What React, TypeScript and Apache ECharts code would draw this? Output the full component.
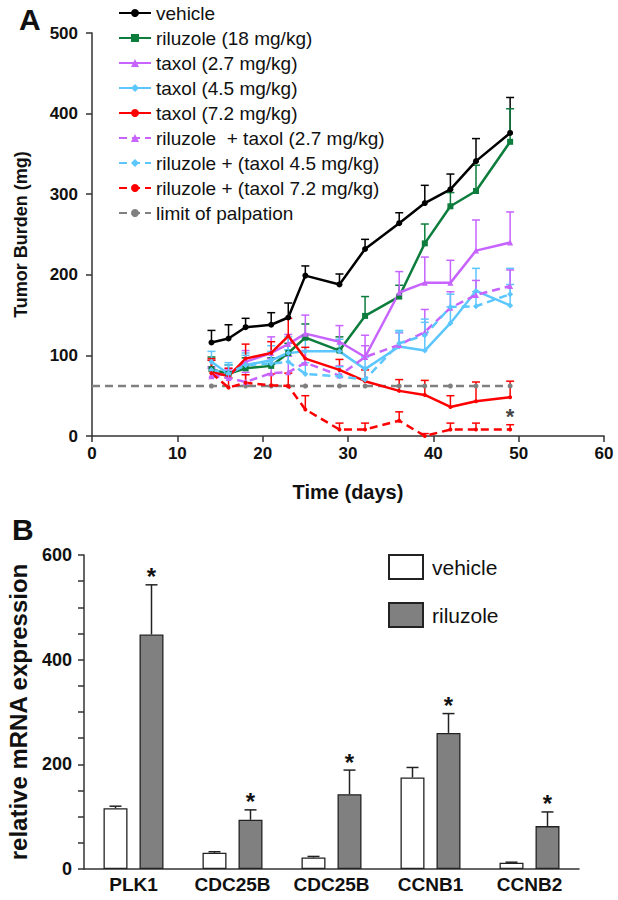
import React, { useEffect, useRef } from "react";
import * as echarts from "echarts";

const FONT = "'Liberation Sans', Arial, Helvetica, sans-serif";

// ---------- Panel A data ----------
const DAYS = [14, 16, 18, 21, 23, 25, 29, 32, 36, 39, 42, 45, 49];
const VEHICLE = [116, 121, 135, 138, 147, 199, 188, 232, 264, 289, 306, 341, 376];
const VEHICLE_ERR = [15, 17, 11, 15, 18, 12, 13, 12, 13, 22, 19, 28, 44];
const RILUZOLE = [83, 77, 84, 87, 103, 122, 106, 149, 173, 239, 285, 304, 365];
const RILUZOLE_ERR = [15, 11, 13, 10, 12, 17, 17, 24, 14, 24, 17, 32, 41];
const TAXOL27 = [76, 76, 92, 103, 114, 127, 117, 98, 178, 190, 190, 230, 240];
const TAXOL27_ERR = [10, 8, 14, 20, 12, 23, 20, 27, 26, 32, 28, 38, 38];
const TAXOL45 = [92, 77, 88, 94, 103, 105, 105, 83, 111, 106, 140, 180, 162];
const TAXOL45_ERR = [13, 14, 15, 18, 20, 16, 15, 15, 20, 35, 20, 28, 46];
const TAXOL72 = [80, 74, 96, 103, 124, 96, 82, 68, 56, 51, 36, 43, 48];
const TAXOL72_ERR = [16, 10, 18, 14, 22, 14, 13, 14, 14, 18, 14, 24, 20];
const RIL_TAX27 = [74, 72, 67, 78, 79, 91, 75, 98, 113, 129, 159, 175, 186];
const RIL_TAX27_ERR = [10, 10, 12, 18, 20, 15, 12, 14, 15, 28, 20, 18, 20];
const RIL_TAX45 = [82, 78, 88, 90, 92, 77, 74, 70, 115, 125, 160, 161, 176];
const RIL_TAX45_ERR = [12, 10, 12, 15, 15, 14, 12, 15, 14, 20, 16, 18, 12];
const RIL_TAX72 = [78, 60, 66, 63, 62, 33, 8, 8, 19, 0, 8, 8, 8];
const RIL_TAX72_ERR = [16, 12, 10, 14, 16, 17, 8, 8, 11, 3, 8, 8, 6];
const LIMIT_DAYS = [0, 14, 18, 21, 23, 25, 29, 32, 36, 39, 42, 45, 49];
const LIMIT_VALUE = 62;
const STAR_A = [49, 24];
const X_TICKS_A = { min: 0, max: 60, interval: 10 };
const Y_TICKS_A = { min: 0, max: 500, interval: 100 };

// ---------- Panel B data ----------
const GENES = ["PLK1", "CDC25B", "CDC25B", "CCNB1", "CCNB2"];
const EXPR_VEHICLE = [116, 31, 22, 175, 12];
const EXPR_VEHICLE_ERR = [4, 2, 2, 19, 1];
const EXPR_RILUZOLE = [448, 94, 143, 260, 82];
const EXPR_RILUZOLE_ERR = [95, 19, 46, 37, 27];
const EXPR_SIG = [true, true, true, true, true];
const Y_TICKS_B = { min: 0, max: 600, interval: 50, labelEvery: 200 };

type LineDef = {
  name: string;
  values: number[];
  errors: number[];
  color: string;
  dashed: boolean;
  symbol: string;
  symbolSize: number;
};

const LINES: LineDef[] = [
  { name: "vehicle", values: VEHICLE, errors: VEHICLE_ERR, color: "#000000", dashed: false, symbol: "circle", symbolSize: 6 },
  { name: "riluzole (18 mg/kg)", values: RILUZOLE, errors: RILUZOLE_ERR, color: "#0c7d3c", dashed: false, symbol: "rect", symbolSize: 6 },
  { name: "taxol (2.7 mg/kg)", values: TAXOL27, errors: TAXOL27_ERR, color: "#c763ff", dashed: false, symbol: "triangle", symbolSize: 6 },
  { name: "taxol (4.5 mg/kg)", values: TAXOL45, errors: TAXOL45_ERR, color: "#5cc6ff", dashed: false, symbol: "diamond", symbolSize: 6 },
  { name: "taxol (7.2 mg/kg)", values: TAXOL72, errors: TAXOL72_ERR, color: "#ff0000", dashed: false, symbol: "circle", symbolSize: 4 },
  { name: "riluzole  + taxol (2.7 mg/kg)", values: RIL_TAX27, errors: RIL_TAX27_ERR, color: "#c763ff", dashed: true, symbol: "triangle", symbolSize: 6 },
  { name: "riluzole + (taxol 4.5 mg/kg)", values: RIL_TAX45, errors: RIL_TAX45_ERR, color: "#5cc6ff", dashed: true, symbol: "diamond", symbolSize: 6 },
  { name: "riluzole + (taxol 7.2 mg/kg)", values: RIL_TAX72, errors: RIL_TAX72_ERR, color: "#ff0000", dashed: true, symbol: "circle", symbolSize: 4 },
];
const LIMIT_NAME = "limit of palpation";

const axisLineStyle = { color: "#333", width: 1.5 };

function errorSeriesA(def: LineDef) {
  return {
    type: "custom",
    silent: true,
    z: 1,
    encode: { x: 0, y: [1, 3] },
    data: DAYS.map((d, i) => [d, def.values[i], def.errors[i], def.values[i] + def.errors[i]]),
    renderItem: (params: any, api: any) => {
      const x = api.value(0);
      const y = api.value(1);
      const e = api.value(2);
      if (!e) return null;
      const p0 = api.coord([x, y]);
      const p1 = api.coord([x, y + e]);
      const st = { stroke: def.color, lineWidth: 1.5 };
      return {
        type: "group",
        children: [
          { type: "line", shape: { x1: p0[0], y1: p0[1], x2: p1[0], y2: p1[1] }, style: st },
          { type: "line", shape: { x1: p1[0] - 4, y1: p1[1], x2: p1[0] + 4, y2: p1[1] }, style: st },
        ],
      };
    },
  };
}

function optionA(): any {
  const series: any[] = [];
  LINES.forEach((def) => series.push(errorSeriesA(def)));
  series.push({
    name: LIMIT_NAME,
    type: "line",
    z: 2,
    symbol: "circle",
    symbolSize: 5,
    itemStyle: { color: "#808080" },
    lineStyle: { color: "#808080", width: 2.5, type: [8, 5] },
    data: LIMIT_DAYS.map((d) => ({ value: [d, LIMIT_VALUE], symbol: d === 0 ? "none" : "circle" })),
  });
  LINES.forEach((def) =>
    series.push({
      name: def.name,
      type: "line",
      z: 3,
      symbol: def.symbol,
      symbolSize: def.symbolSize,
      itemStyle: { color: def.color },
      lineStyle: { color: def.color, width: 2.5, type: def.dashed ? [8, 5] : "solid" },
      data: DAYS.map((d, i) => [d, def.values[i]]),
    })
  );
  series.push({
    type: "scatter",
    silent: true,
    symbolSize: 0,
    data: [STAR_A],
    label: { show: true, formatter: "*", position: "inside", fontSize: 22, fontWeight: "bold", color: "#111", fontFamily: FONT },
  });

  return {
    animation: false,
    backgroundColor: "transparent",
    textStyle: { fontFamily: FONT },
    graphic: [
      { type: "text", left: 19, top: 4, style: { text: "A", fontSize: 30, fontWeight: "bold", fill: "#111", fontFamily: FONT } },
    ],
    legend: {
      orient: "vertical",
      left: 118,
      top: 3,
      padding: 0,
      itemWidth: 32,
      itemHeight: 10,
      itemGap: 5,
      textStyle: { fontSize: 19, color: "#111", fontFamily: FONT, lineHeight: 20 },
      data: [...LINES.map((l) => l.name), LIMIT_NAME],
    },
    grid: { left: 92, right: 14, top: 33, height: 403, outerBoundsMode: "none", containLabel: false },
    xAxis: {
      type: "value",
      ...X_TICKS_A,
      name: "Time (days)",
      nameLocation: "middle",
      nameGap: 46,
      nameTextStyle: { fontSize: 20, fontWeight: "bold", color: "#111", fontFamily: FONT },
      axisLine: { lineStyle: axisLineStyle },
      axisTick: { length: 6, lineStyle: axisLineStyle },
      axisLabel: { fontSize: 17, fontWeight: "bold", color: "#111", margin: 9, fontFamily: FONT },
      splitLine: { show: false },
    },
    yAxis: {
      type: "value",
      ...Y_TICKS_A,
      name: "Tumor Burden (mg)",
      nameLocation: "middle",
      nameGap: 62,
      nameTextStyle: { fontSize: 18, fontWeight: "bold", color: "#111", fontFamily: FONT },
      axisLine: { show: true, lineStyle: axisLineStyle },
      axisTick: { show: true, length: 6, lineStyle: axisLineStyle },
      axisLabel: { fontSize: 17, fontWeight: "bold", color: "#111", margin: 14, fontFamily: FONT },
      splitLine: { show: false },
    },
    series,
  };
}

function errorSeriesB(values: number[], errors: number[], sig: boolean[] | null, offset: number) {
  return {
    type: "custom",
    silent: true,
    z: 3,
    encode: { x: 0, y: [1, 3] },
    data: values.map((v, i) => [i, v, errors[i], v + errors[i], sig && sig[i] ? 1 : 0]),
    renderItem: (params: any, api: any) => {
      const idx = api.value(0);
      const v = api.value(1);
      const e = api.value(2);
      const s = api.value(4);
      const p0 = api.coord([idx, v]);
      const p1 = api.coord([idx, v + e]);
      const x = p0[0] + offset;
      const st = { stroke: "#222", lineWidth: 1.5 };
      const children: any[] = [
        { type: "line", shape: { x1: x, y1: p0[1], x2: x, y2: p1[1] }, style: st },
        { type: "line", shape: { x1: x - 6, y1: p1[1], x2: x + 6, y2: p1[1] }, style: st },
      ];
      if (s) {
        children.push({
          type: "text",
          style: { text: "*", x: x, y: p1[1] + 4, align: "center", verticalAlign: "bottom", fontSize: 24, fontWeight: "bold", fill: "#111", fontFamily: FONT },
        });
      }
      return { type: "group", children };
    },
  };
}

function optionB(): any {
  return {
    animation: false,
    backgroundColor: "transparent",
    textStyle: { fontFamily: FONT },
    graphic: [
      { type: "text", left: 12, top: 14, style: { text: "B", fontSize: 30, fontWeight: "bold", fill: "#111", fontFamily: FONT } },
    ],
    legend: {
      orient: "vertical",
      left: 388,
      top: 54,
      padding: 0,
      icon: "rect",
      itemWidth: 34,
      itemHeight: 24,
      itemGap: 22,
      textStyle: { fontSize: 21, color: "#111", fontFamily: FONT, padding: [0, 0, 0, 4] },
      data: ["vehicle", "riluzole"],
    },
    grid: { left: 84, right: 39, top: 55, height: 314, outerBoundsMode: "none", containLabel: false },
    xAxis: {
      type: "category",
      data: GENES,
      axisLine: { lineStyle: axisLineStyle },
      axisTick: { show: false },
      axisLabel: { interval: 0, fontSize: 19, fontWeight: "bold", color: "#111", margin: 6, fontFamily: FONT },
    },
    yAxis: {
      type: "value",
      min: Y_TICKS_B.min,
      max: Y_TICKS_B.max,
      interval: Y_TICKS_B.interval,
      name: "relative mRNA expression",
      nameLocation: "middle",
      nameGap: 54,
      nameTextStyle: { fontSize: 24, fontWeight: "bold", color: "#111", fontFamily: FONT },
      axisLine: { show: true, lineStyle: axisLineStyle },
      axisTick: { show: true, length: 6, lineStyle: axisLineStyle },
      axisLabel: {
        fontSize: 18,
        fontWeight: "bold",
        color: "#111",
        margin: 12,
        fontFamily: FONT,
        formatter: (v: number) => (v % Y_TICKS_B.labelEvery === 0 ? String(v) : ""),
      },
      splitLine: { show: false },
    },
    series: [
      {
        name: "vehicle",
        type: "bar",
        data: EXPR_VEHICLE,
        barWidth: 24,
        barGap: "50%",
        z: 2,
        itemStyle: { color: "#ffffff", borderColor: "#222", borderWidth: 1.3 },
      },
      {
        name: "riluzole",
        type: "bar",
        data: EXPR_RILUZOLE,
        barWidth: 24,
        barGap: "50%",
        z: 2,
        itemStyle: { color: "#808080", borderColor: "#222", borderWidth: 1.3 },
      },
      errorSeriesB(EXPR_VEHICLE, EXPR_VEHICLE_ERR, null, -18),
      errorSeriesB(EXPR_RILUZOLE, EXPR_RILUZOLE_ERR, EXPR_SIG, 18),
    ],
  };
}

export default function App() {
  const refA = useRef<HTMLDivElement>(null);
  const refB = useRef<HTMLDivElement>(null);
  useEffect(() => {
    const a = echarts.init(refA.current!, undefined, { renderer: "svg" });
    const b = echarts.init(refB.current!, undefined, { renderer: "svg" });
    a.setOption(optionA());
    b.setOption(optionB());
    return () => {
      a.dispose();
      b.dispose();
    };
  }, []);
  return (
    <div style={{ position: "fixed", left: 0, top: 0, width: 618, height: 900, background: "#fff" }}>
      <div ref={refA} style={{ position: "absolute", left: 0, top: 0, width: 618, height: 520 }} />
      <div ref={refB} style={{ position: "absolute", left: 0, top: 500, width: 618, height: 400 }} />
    </div>
  );
}
